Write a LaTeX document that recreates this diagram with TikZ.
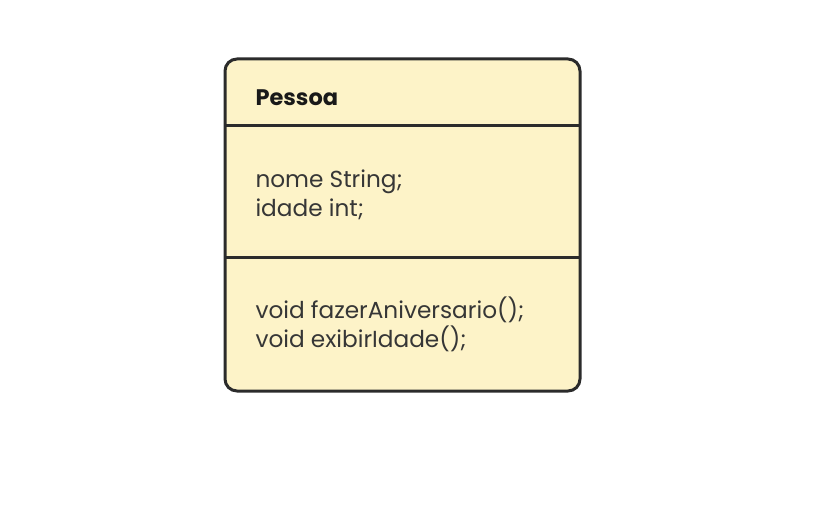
\documentclass[tikz,border=0pt]{standalone}
\usepackage{fontspec}
\setmainfont{Poppins}
\definecolor{classfill}{HTML}{FDF3C8}
\definecolor{classline}{HTML}{2B2B2B}

\begin{document}
\begin{tikzpicture}[x=1pt,y=-1pt,line width=3pt,color=classline,
    member/.style={anchor=base west,inner sep=0pt,font=\fontsize{23.2}{28}\selectfont,text=classline!95}]
 	\useasboundingbox (0,0) rectangle (824,510);
 	\draw[fill=classfill,rounded corners=12pt] (225,59) rectangle (580,391);
 	\coordinate (d1w) at (225,126);
 	\coordinate (d1e) at (580,126);
 	\coordinate (d2w) at (225,258);
 	\coordinate (d2e) at (580,258);
 	\draw (d1w) -- (d1e);
 	\draw (d2w) -- (d2e);
 	\node[member,font=\fontsize{22.5}{27}\selectfont\bfseries,text=black!90] (name) at (254,106) {Pessoa};
 	\node[member] (attr1) at (254,188) {nome String;};
 	\node[member] (attr2) at (254,217) {idade int;};
 	\node[member] (op1) at (254,319) {void fazerAniversario();};
 	\node[member] (op2) at (254,348) {void exibirIdade();};
\end{tikzpicture}
\end{document}
